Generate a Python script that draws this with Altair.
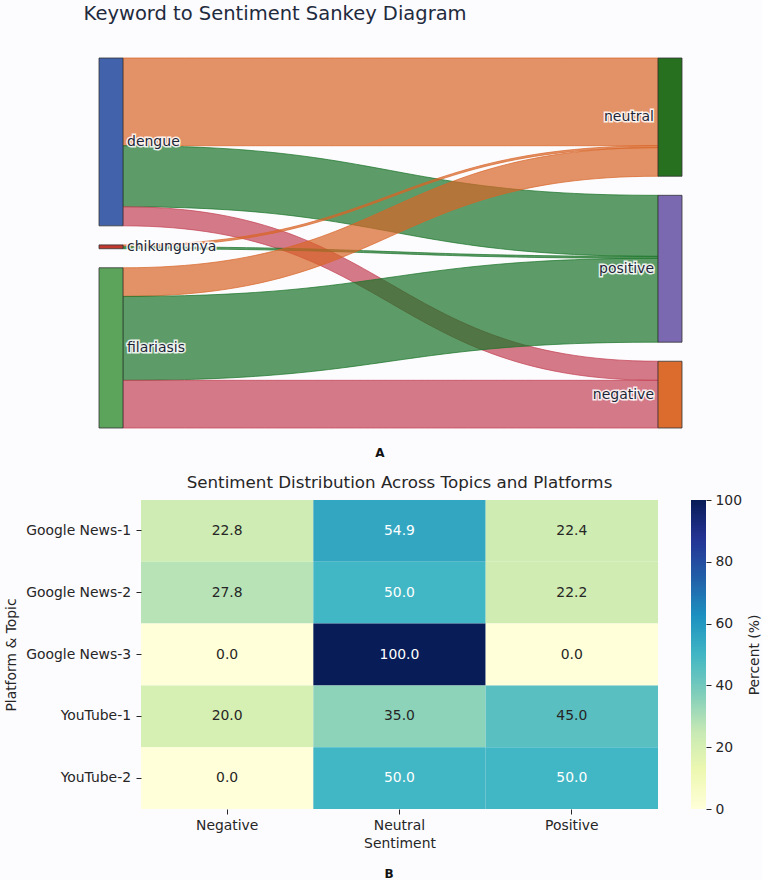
import altair as alt
import numpy as np
import pandas as pd

# ---------------- Sankey data ----------------
sources = ["dengue", "chikungunya", "filariasis"]
targets = ["neutral", "positive", "negative"]
link_source = ["dengue", "dengue", "dengue", "chikungunya", "chikungunya",
               "filariasis", "filariasis", "filariasis"]
link_target = ["neutral", "positive", "negative", "neutral", "positive",
               "neutral", "positive", "negative"]
link_value = [46, 32, 10, 1, 1, 15, 44, 25]

source_colors = ["#4263ab", "#c0392f", "#5ca35c"]
target_colors = ["#26701f", "#7a68b0", "#db6c2d"]
link_colors = ["#d86527", "#1a7428", "#c34154"]  # by target

# ---------------- Heatmap data ----------------
platforms = ["Google News-1", "Google News-2", "Google News-3", "YouTube-1", "YouTube-2"]
sentiments = ["Negative", "Neutral", "Positive"]
neg_pct = [22.8, 27.8, 0.0, 20.0, 0.0]
neu_pct = [54.9, 50.0, 100.0, 35.0, 50.0]
pos_pct = [22.4, 22.2, 0.0, 45.0, 50.0]

# YlGnBu colormap stops
ylgnbu = ["#ffffd9", "#edf8b1", "#c7e9b4", "#7fcdbb", "#41b6c4",
          "#1d91c0", "#225ea8", "#253494", "#081d58"]

FONT = "DejaVu Sans"
TXT = "#262626"
BG = "#fcfbfe"

# ---------------- Sankey layout (computed from the flows) ----------------
PAD = 10.0                 # gap between nodes, in flow units
NODE_W = 24.0 / 583.0      # node width as a fraction of column distance
X_DOMAIN = [(140 - 98) / 583.0, (760 - 98) / 583.0]

n = len(link_value)
src_tot = {s: sum(v for a, v in zip(link_source, link_value) if a == s) for s in sources}
tgt_tot = {t: sum(v for b, v in zip(link_target, link_value) if b == t) for t in targets}


def stack(names, tot):
    pos, y = {}, 0.0
    for nm in names:
        pos[nm] = y
        y += tot[nm] + PAD
    return pos


src_y0 = stack(sources, src_tot)
tgt_y0 = stack(targets, tgt_tot)
Y_MAX = max(sum(src_tot.values()) + PAD * (len(sources) - 1),
            sum(tgt_tot.values()) + PAD * (len(targets) - 1))

off = dict(src_y0)
ys0 = {}
for i in sorted(range(n), key=lambda i: (sources.index(link_source[i]), targets.index(link_target[i]))):
    ys0[i] = off[link_source[i]]
    off[link_source[i]] += link_value[i]
off = dict(tgt_y0)
ys1 = {}
for i in sorted(range(n), key=lambda i: (targets.index(link_target[i]), sources.index(link_source[i]))):
    ys1[i] = off[link_target[i]]
    off[link_target[i]] += link_value[i]

x0, x1 = NODE_W, 1 - NODE_W
xm = (x0 + x1) / 2
link_rows = []
for i in range(n):
    for t in np.linspace(0, 1, 61):
        x = (1 - t) ** 3 * x0 + 3 * (1 - t) ** 2 * t * xm + 3 * (1 - t) * t ** 2 * xm + t ** 3 * x1
        s = 3 * t ** 2 - 2 * t ** 3
        top = ys0[i] + (ys1[i] - ys0[i]) * s
        link_rows.append(dict(link=i, x=x, top=top, bot=top + link_value[i],
                              target=link_target[i]))
links_df = pd.DataFrame(link_rows)

node_rows = []
for nm, c in zip(sources, source_colors):
    node_rows.append(dict(name=nm, u0=0.0, u1=NODE_W, y0=src_y0[nm], y1=src_y0[nm] + src_tot[nm],
                          ym=src_y0[nm] + src_tot[nm] / 2, color=c, side="L"))
for nm, c in zip(targets, target_colors):
    node_rows.append(dict(name=nm, u0=1 - NODE_W, u1=1.0, y0=tgt_y0[nm], y1=tgt_y0[nm] + tgt_tot[nm],
                          ym=tgt_y0[nm] + tgt_tot[nm] / 2, color=c, side="R"))
nodes_df = pd.DataFrame(node_rows)

xs = alt.Scale(domain=X_DOMAIN, nice=False, zero=False)
ys = alt.Scale(domain=[0, Y_MAX], nice=False, zero=False, reverse=True)

layers = []
for i in range(n):
    col = link_colors[targets.index(link_target[i])]
    layers.append(
        alt.Chart(links_df[links_df.link == i]).mark_area(
            color=col, fillOpacity=0.7, stroke=col, strokeWidth=0.8, strokeOpacity=0.9,
            interpolate="linear", clip=False
        ).encode(
            x=alt.X("x:Q", scale=xs, axis=None),
            y=alt.Y("top:Q", scale=ys, axis=None),
            y2="bot:Q",
        )
    )

nodes = alt.Chart(nodes_df).mark_rect(stroke="#333333", strokeWidth=0.8).encode(
    x=alt.X("u0:Q", scale=xs, axis=None), x2="u1:Q",
    y=alt.Y("y0:Q", scale=ys, axis=None), y2="y1:Q",
    color=alt.Color("color:N", scale=None),
)

left_df = nodes_df[nodes_df.side == "L"]
right_df = nodes_df[nodes_df.side == "R"]
lab_kw = dict(font=FONT, fontSize=14, baseline="middle")
labels = []
for df, xf, al, dx in [(left_df, "u1", "left", 4), (right_df, "u0", "right", -4)]:
    base = alt.Chart(df).encode(
        x=alt.X(f"{xf}:Q", scale=xs, axis=None),
        y=alt.Y("ym:Q", scale=ys, axis=None),
        text="name:N",
    )
    labels.append(base.mark_text(align=al, dx=dx, fill="white", stroke="white",
                                 strokeWidth=3, strokeOpacity=0.85, **lab_kw))
    labels.append(base.mark_text(align=al, dx=dx, color="#1c2536", **lab_kw))

sankey = alt.layer(*layers, nodes, *labels).properties(
    width=620, height=370,
    title=alt.TitleParams("Keyword to Sentiment Sankey Diagram", anchor="start", dx=-15,
                          font=FONT, fontSize=19.5, fontWeight="normal", color="#1f2b3d",
                          offset=32),
)
sankey_block = alt.vconcat(sankey).properties(
    title=alt.TitleParams("A", orient="bottom", anchor="middle", dx=-42.5, offset=18,
                          font=FONT, fontSize=12, fontWeight="bold", color="#111111")
)

# ---------------- Heatmap ----------------
hm_rows = []
for p, a, b, c in zip(platforms, neg_pct, neu_pct, pos_pct):
    for s, v in zip(sentiments, [a, b, c]):
        hm_rows.append(dict(platform=p, sentiment=s, value=v))
hm_df = pd.DataFrame(hm_rows)

cscale = alt.Scale(domain=list(np.linspace(0, 100, len(ylgnbu))), range=ylgnbu,
                   interpolate="rgb")
ax_kw = dict(labelFont=FONT, labelFontSize=13.9, labelColor=TXT, tickColor=TXT, tickSize=5,
             tickWidth=1, domain=False, grid=False,
             titleFont=FONT, titleFontSize=13.9, titleFontWeight="normal", titleColor=TXT)

hbase = alt.Chart(hm_df).encode(
    x=alt.X("sentiment:N", sort=sentiments, scale=alt.Scale(paddingInner=0, paddingOuter=0),
            axis=alt.Axis(title="Sentiment", labelAngle=0, titlePadding=5, labelPadding=4, **ax_kw)),
    y=alt.Y("platform:N", sort=platforms, scale=alt.Scale(paddingInner=0, paddingOuter=0),
            axis=alt.Axis(title="Platform & Topic", titlePadding=7, labelPadding=5.5, **ax_kw)),
)
cells = hbase.mark_rect().encode(color=alt.Color("value:Q", scale=cscale, legend=None))
texts = hbase.mark_text(font=FONT, fontSize=13.9, baseline="middle").encode(
    text=alt.Text("value:Q", format=".1f"),
    color=alt.condition(alt.datum.value >= 48, alt.value("white"), alt.value(TXT)),
)
heatmap = alt.layer(cells, texts).properties(
    width=517, height=309,
    title=alt.TitleParams("Sentiment Distribution Across Topics and Platforms", anchor="middle",
                          font=FONT, fontSize=16.7, fontWeight="normal", color=TXT, offset=8),
)

# colorbar
cb_lo = np.arange(0, 100, 0.5)
cb_df = pd.DataFrame(dict(lo=cb_lo, hi=np.minimum(cb_lo + 0.9, 100), mid=cb_lo + 0.25))
colorbar = alt.Chart(cb_df).mark_rect().encode(
    y=alt.Y("lo:Q", scale=alt.Scale(domain=[0, 100], nice=False),
            axis=alt.Axis(orient="right", values=[0, 20, 40, 60, 80, 100], title="Percent (%)",
                          titleAngle=270, titleBaseline="top", titlePadding=6, labelPadding=4,
                          **ax_kw)),
    y2="hi:Q",
    color=alt.Color("mid:Q", scale=cscale, legend=None),
).properties(width=15, height=309)

bottom = alt.hconcat(heatmap, colorbar, spacing=33).properties(
    title=alt.TitleParams("B", orient="bottom", anchor="middle", dx=6, offset=18,
                          font=FONT, fontSize=12, fontWeight="bold", color="#111111")
)

chart = alt.vconcat(sankey_block, bottom, spacing=16).properties(
    padding={"left": 4, "top": 3, "right": 0, "bottom": 0},
    background=BG,
).configure_view(stroke=None)

chart.save("out.html", embed_options={"renderer": "svg", "actions": False})
